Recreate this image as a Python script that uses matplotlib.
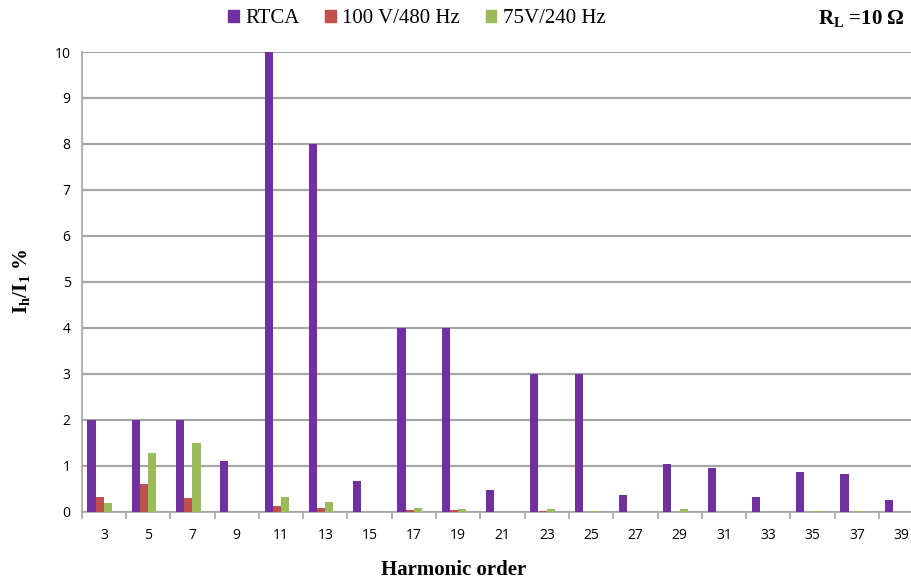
import matplotlib
matplotlib.use("Agg")
import matplotlib.pyplot as plt
import numpy as np
from matplotlib.patches import Rectangle

plt.rcParams["mathtext.fontset"] = "custom"
plt.rcParams["mathtext.rm"] = "Liberation Serif"
plt.rcParams["mathtext.it"] = "Liberation Serif:italic"
plt.rcParams["mathtext.bf"] = "Liberation Serif:bold"

harmonics = [3, 5, 7, 9, 11, 13, 15, 17, 19, 21, 23, 25, 27, 29, 31, 33, 35, 37, 39]
rtca = [2.0, 2.0, 2.0, 1.10, 10.0, 8.0, 0.67, 4.0, 4.0, 0.47, 3.0, 3.0, 0.37, 1.03, 0.96, 0.31, 0.86, 0.81, 0.25]
v100 = [0.31, 0.61, 0.30, 0.0, 0.12, 0.09, 0.0, 0.04, 0.04, 0.0, 0.02, 0.0, 0.0, 0.0, 0.0, 0.0, 0.0, 0.0, 0.0]
v75 = [0.19, 1.28, 1.49, 0.0, 0.31, 0.22, 0.0, 0.08, 0.06, 0.0, 0.06, 0.02, 0.0, 0.05, 0.0, 0.0, 0.02, 0.02, 0.0]
series_names = ["RTCA", "100 V/480 Hz", "75V/240 Hz"]
colors = ["#7030A0", "#C0504D", "#9BBB59"]

fig = plt.figure(figsize=(9.12, 5.83), dpi=100)
ax = fig.add_axes([0.0896, 0.1223, 0.9228, 0.7885])

x = np.arange(len(harmonics))
w = 0.184
offsets = [-0.28, -0.095, 0.09]
for vals, off, c in zip([rtca, v100, v75], offsets, colors):
    ax.bar(x + off, vals, width=w, color=c, zorder=3, linewidth=0)

ax.set_xlim(-0.5, len(harmonics) - 0.5)
ax.set_ylim(0, 10)
ax.set_yticks(range(0, 11))
ax.yaxis.grid(True, color="#a6a6a6", linewidth=1.6, zorder=0)
ax.set_axisbelow(True)
for s in ["top", "right"]:
    ax.spines[s].set_visible(False)
for s in ["left", "bottom"]:
    ax.spines[s].set_color("#a6a6a6")
    ax.spines[s].set_linewidth(1.2)

ax.set_xticks(x)
ax.set_xticklabels([str(h) for h in harmonics], fontfamily="Open Sans", fontsize=10)
ax.tick_params(axis="x", length=0, pad=12)
ax.set_xticks(np.arange(-0.5, len(harmonics), 1), minor=True)
ax.tick_params(axis="x", which="minor", length=5, color="#a6a6a6", width=1.2)
ax.tick_params(axis="y", length=0, pad=8, labelsize=10)
for lab in ax.get_yticklabels():
    lab.set_fontfamily("Open Sans")

fig.text(454 / 912, 1 - 570 / 583, "Harmonic order", ha="center", va="center",
         fontfamily="Liberation Serif", fontweight="bold", fontsize=15)
ax.set_ylabel(r"$\mathbf{I_h/I_1}$ %", fontfamily="Liberation Serif", fontweight="bold",
              fontsize=15, labelpad=16)

handles = [Rectangle((0, 0), 1, 1, color=c) for c in colors]
fig.legend(handles, series_names, loc="center", bbox_to_anchor=(0.457, 0.968), ncol=3,
           frameon=False, prop={"family": "Liberation Serif", "size": 15},
           handlelength=0.5, handleheight=0.5, handletextpad=0.3, columnspacing=1.25)

fig.text(0.992, 0.968, r"$\mathbf{R_L}$ =10 Ω", ha="right", va="center",
         fontfamily="Liberation Serif", fontweight="bold", fontsize=15)

fig.savefig("out.png", dpi=100)
